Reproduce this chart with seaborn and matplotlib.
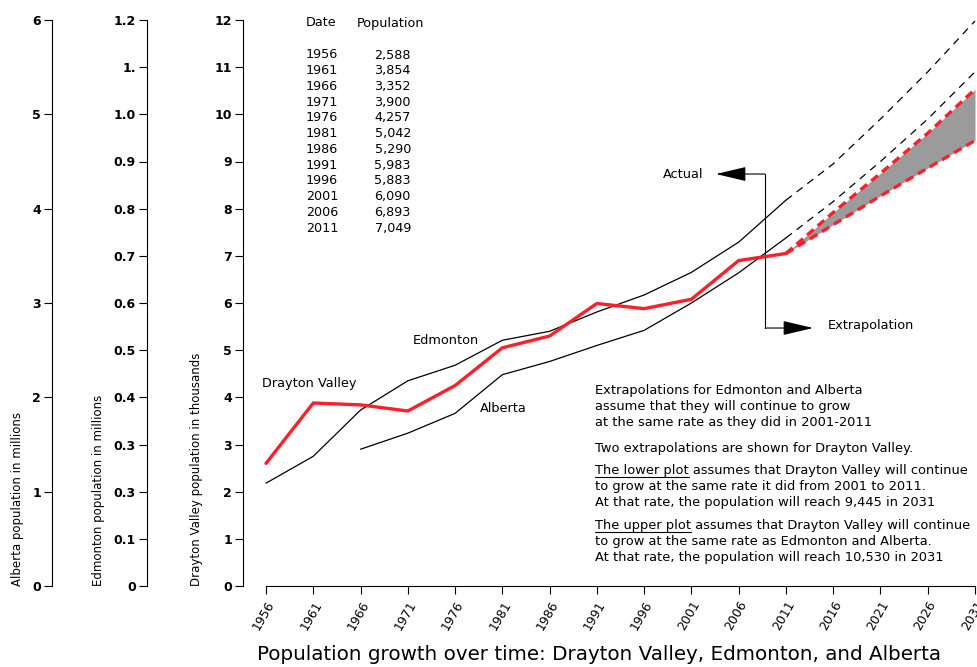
import seaborn as sns
import matplotlib.pyplot as plt

# Drayton Valley table (as printed on the chart)
table_years = ["1956", "1961", "1966", "1971", "1976", "1981",
               "1986", "1991", "1996", "2001", "2006", "2011"]
table_population = ["2,588", "3,854", "3,352", "3,900", "4,257", "5,042",
                    "5,290", "5,983", "5,883", "6,090", "6,893", "7,049"]

# plotted series
years = [1956, 1961, 1966, 1971, 1976, 1981, 1986, 1991, 1996, 2001, 2006, 2011]
drayton_valley = [2.60, 3.88, 3.84, 3.71, 4.25, 5.05, 5.30, 5.99, 5.88, 6.08, 6.90, 7.05]  # thousands
edmonton = [0.218, 0.275, 0.373, 0.435, 0.468, 0.521, 0.540, 0.581, 0.617, 0.665, 0.729, 0.818]  # millions
alberta_years = [1966, 1971, 1976, 1981, 1986, 1991, 1996, 2001, 2006, 2011]
alberta = [1.45, 1.62, 1.83, 2.24, 2.38, 2.55, 2.71, 3.00, 3.32, 3.69]  # millions

# extrapolations
future_years = [2011, 2016, 2021, 2026, 2031]
edmonton_future = [0.818, 0.895, 0.99, 1.09, 1.198]
alberta_future = [3.69, 4.075, 4.50, 4.95, 5.45]
dv_upper = [7.05, 7.92, 8.75, 9.60, 10.53]
dv_lower = [7.05, 7.66, 8.27, 8.86, 9.445]

x_ticks = list(range(1956, 2032, 5))
dv_ticks = list(range(0, 13))
edm_ticks = [i / 10 for i in range(13)]
edm_tick_labels = ["0", "0.1", "0.3", "0.3", "0.4", "0.5", "0.6", "0.7",
                   "0.8", "0.9", "1.0", "1.", "1.2"]
alb_ticks = list(range(0, 7))

RED = "#ff1f2a"
GREY = "#9b9b9b"

sns.set_style("ticks")
plt.rcParams['font.family'] = ['DejaVu Sans']
plt.rcParams.update({'text.color': 'black', 'axes.labelcolor': 'black',
                     'xtick.color': 'black', 'ytick.color': 'black'})

W, H = 978, 667
fig = plt.figure(figsize=(W / 100, H / 100), dpi=100)


def fx(x):
    return x / W


def fy(y):
    return 1 - y / H


ax = fig.add_axes([fx(243), fy(586), 735 / W, 566 / H])
ax_edm = ax.twinx()
ax_alb = ax.twinx()

for a, off in ((ax_edm, (147 - 243) / 735), (ax_alb, (52 - 243) / 735)):
    a.yaxis.set_ticks_position('left')
    a.yaxis.set_label_position('left')
    a.spines['left'].set_position(('axes', off))
    for s in ('right', 'top', 'bottom'):
        a.spines[s].set_visible(False)
    a.spines['left'].set_visible(True)
    a.patch.set_visible(False)
ax.set_zorder(ax_alb.get_zorder() + 1)
ax.patch.set_visible(False)
for s in ('right', 'top'):
    ax.spines[s].set_visible(False)

xmin, xmax = 1956 - 23 / 9.4533, 2031 + 3 / 9.4533
ax.set_xlim(xmin, xmax)
ax.set_ylim(0, 12)
ax_edm.set_ylim(0, 1.2)
ax_alb.set_ylim(0, 6)

# actual lines
sns.lineplot(x=years, y=edmonton, ax=ax_edm, color="black", lw=0.9)
sns.lineplot(x=alberta_years, y=alberta, ax=ax_alb, color="black", lw=0.9)
sns.lineplot(x=years, y=drayton_valley, ax=ax, color=RED, lw=2.4, zorder=5)

# extrapolated lines
sns.lineplot(x=future_years, y=edmonton_future, ax=ax_edm, color="black",
             lw=0.9, linestyle=(0, (6, 4.8)))
sns.lineplot(x=future_years, y=alberta_future, ax=ax_alb, color="black",
             lw=0.9, linestyle=(0, (6, 4.8)))
ax.fill_between(future_years, dv_lower, dv_upper, color=GREY, lw=0, zorder=3)
sns.lineplot(x=future_years, y=dv_upper, ax=ax, color=RED, lw=2.4,
             linestyle=(0, (2.6, 1.6)), zorder=4)
sns.lineplot(x=future_years, y=dv_lower, ax=ax, color=RED, lw=2.4,
             linestyle=(0, (2.6, 1.6)), zorder=4)

# axes, ticks
ax.spines['bottom'].set_bounds(1956, 2031)
ax.set_xticks(x_ticks)
ax.set_xticklabels([str(y) for y in x_ticks], rotation=60, ha='right',
                   rotation_mode='anchor', fontsize=9)
ax.tick_params(axis='x', length=6, width=0.8, pad=3)

ax.set_yticks(dv_ticks)
ax.set_yticklabels([str(t) for t in dv_ticks], fontsize=9, fontweight='bold')
ax_edm.set_yticks(edm_ticks)
ax_edm.set_yticklabels(edm_tick_labels, fontsize=9, fontweight='bold')
ax_alb.set_yticks(alb_ticks)
ax_alb.set_yticklabels([str(t) for t in alb_ticks], fontsize=9, fontweight='bold')
for a in (ax, ax_edm, ax_alb):
    a.tick_params(axis='y', length=6, width=0.8, pad=2)
    for sp in a.spines.values():
        sp.set_linewidth(0.8)
        sp.set_color("black")

ax.set_ylabel("Drayton Valley population in thousands", loc='bottom',
              fontsize=8.5, labelpad=8)
ax_edm.set_ylabel("Edmonton population in millions", loc='bottom',
                  fontsize=8.5, labelpad=6)
ax_alb.set_ylabel("Alberta population in millions", loc='bottom',
                  fontsize=8.5, labelpad=6)

# arrows "Actual" / "Extrapolation"
xv = xmin + (765 - 243) / 9.4533
y_act, y_ext = (586 - 174) / 47.17, (586 - 328) / 47.17
ax.plot([xv, xv], [y_act, y_ext], color="black", lw=0.8)
arrow = dict(arrowstyle='-|>,head_length=1.9,head_width=0.45', color="black",
             lw=0.8, shrinkA=0, shrinkB=0)
ax.annotate("", xy=(xmin + (716 - 243) / 9.4533, y_act), xytext=(xv, y_act),
            arrowprops=arrow)
ax.annotate("", xy=(xmin + (813 - 243) / 9.4533, y_ext), xytext=(xv, y_ext),
            arrowprops=arrow)
fig.text(fx(703), fy(174), "Actual", ha='right', va='center', fontsize=9.3)
fig.text(fx(828), fy(325), "Extrapolation", ha='left', va='center', fontsize=9.3)

# series labels
fig.text(fx(262), fy(384), "Drayton Valley", ha='left', va='center', fontsize=9.3)
fig.text(fx(413), fy(340), "Edmonton", ha='left', va='center', fontsize=9.3)
fig.text(fx(480), fy(409), "Alberta", ha='left', va='center', fontsize=9.3)

# population table
fig.text(fx(306), fy(23), "Date", ha='left', va='center', fontsize=9.2)
fig.text(fx(357), fy(23), "Population", ha='left', va='center', fontsize=9.2)
for i, (yr, pop) in enumerate(zip(table_years, table_population)):
    yy = 55 + i * 15.73
    fig.text(fx(306), fy(yy), yr, ha='left', va='center', fontsize=9.2)
    fig.text(fx(411), fy(yy), pop, ha='right', va='center', fontsize=9.2)

# explanatory notes
notes = [
    (390, "Extrapolations for Edmonton and Alberta", None),
    (406, "assume that they will continue to grow", None),
    (422, "at the same rate as they did in 2001-2011", None),
    (448, "Two extrapolations are shown for Drayton Valley.", None),
    (470, "The lower plot assumes that Drayton Valley will continue", "The lower plot"),
    (486, "to grow at the same rate it did from 2001 to 2011.", None),
    (502, "At that rate, the population will reach 9,445 in 2031", None),
    (525, "The upper plot assumes that Drayton Valley will continue", "The upper plot"),
    (541, "to grow at the same rate as Edmonton and Alberta.", None),
    (557, "At that rate, the population will reach 10,530 in 2031", None),
]
renderer = fig.canvas.get_renderer()
for yy, line, under in notes:
    fig.text(fx(595), fy(yy + 4), line, ha='left', va='baseline', fontsize=9.4)
    if under:
        t = fig.text(fx(595), fy(yy + 4), under, ha='left', va='baseline',
                     fontsize=9.4, alpha=0)
        bb = t.get_window_extent(renderer)
        fig.add_artist(plt.Line2D([fx(595), bb.x1 / W], [fy(yy + 6.5), fy(yy + 6.5)],
                                  color="black", lw=0.8))

fig.text(fx(599), fy(655), "Population growth over time: Drayton Valley, Edmonton, and Alberta",
         ha='center', va='center', fontsize=14.3)

fig.savefig("out.png", dpi=100)
